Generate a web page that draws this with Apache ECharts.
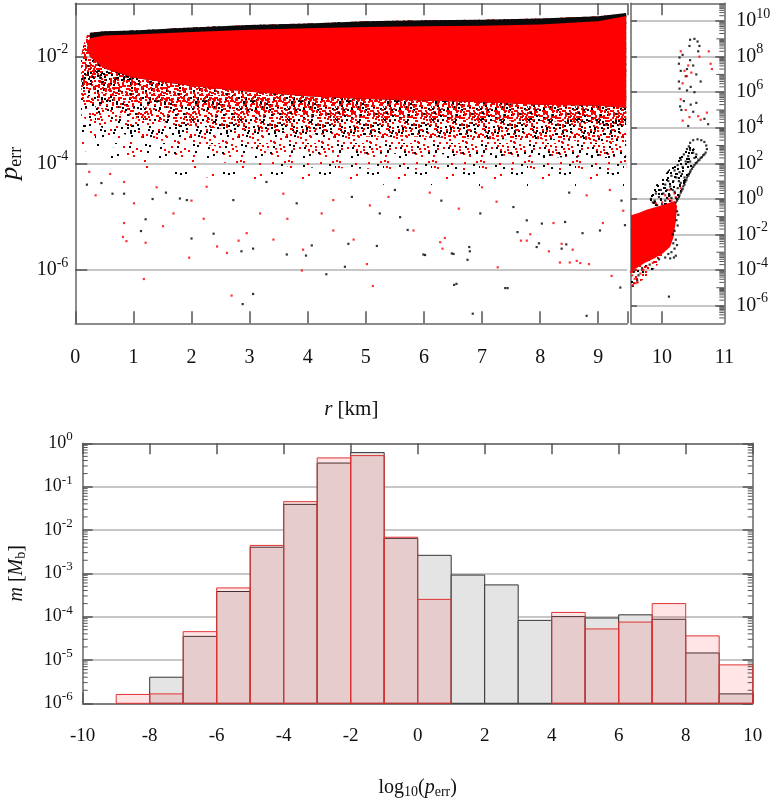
<!DOCTYPE html>
<html><head><meta charset="utf-8">
<script src="https://cdn.jsdelivr.net/npm/echarts@6/dist/echarts.min.js"></script>
<style>html,body{margin:0;padding:0;background:#fff}#c{width:780px;height:801px}</style>
</head><body><div id="c"></div>
<script>
// ---------------- DATA ----------------
// Top-left panel: envelopes of the dense cloud [r km, p_err]
const blackTop = [[0.25,2.8e-2],[0.5,3.0e-2],[1,3.1e-2],[2,3.5e-2],[3,3.9e-2],[4,4.2e-2],[5,4.6e-2],[6,4.8e-2],[7,4.9e-2],[8,5.2e-2],[9,5.7e-2],[9.48,6.6e-2]];
const redTop = [[0.25,2.2e-2],[0.5,2.5e-2],[1,2.6e-2],[2,2.9e-2],[3,3.2e-2],[4,3.4e-2],[5,3.6e-2],[6,3.7e-2],[7,3.8e-2],[8,4.0e-2],[9,4.6e-2],[9.48,5.8e-2]];
const redSolidBottom = [[0.25,1.0e-2],[0.5,6.0e-3],[1,4.0e-3],[2,2.8e-3],[3,2.2e-3],[4,1.8e-3],[5,1.6e-3],[6,1.5e-3],[7,1.4e-3],[8,1.25e-3],[9,1.2e-3],[9.48,1.1e-3]];
const redLeftEdge = [[0.2,1.5e-2]];
const speckleTop = [[0.1,1.0e-2],[0.15,1.8e-2],[0.2,2.5e-2],[0.3,2.9e-2],[1,3.1e-2],[2,3.5e-2],[3,3.9e-2],[4,4.2e-2],[5,4.6e-2],[6,4.8e-2],[7,4.9e-2],[8,5.2e-2],[9,5.7e-2],[9.48,6.4e-2]];
// lower edges of the thinning point cloud, as log10(p_err) at these radii
const speckleR = [0.1,0.2,0.5,1,2,3,4,5,6,7,8,9,9.48];
const band1Bottom = [-2.5,-2.6,-2.7,-2.8,-2.95,-3.05,-3.1,-3.15,-3.15,-3.2,-3.2,-3.25,-3.3];
const band2Bottom = [-2.8,-2.9,-3.0,-3.15,-3.3,-3.4,-3.45,-3.5,-3.5,-3.55,-3.55,-3.6,-3.6];
const band3Bottom = [-3.1,-3.2,-3.35,-3.5,-3.65,-3.72,-3.78,-3.82,-3.82,-3.85,-3.88,-3.9,-3.9];
const band4Bottom = [-3.4,-3.5,-3.65,-3.8,-3.95,-4.02,-4.08,-4.1,-4.12,-4.15,-4.15,-4.18,-4.2];
const band5Bottom = [-3.7,-3.8,-3.95,-4.1,-4.25,-4.3,-4.35,-4.4,-4.4,-4.45,-4.45,-4.5,-4.5];
// Top-left isolated points [r, log10 p_err]
const leftRedPts = [[0.24,-4.16],[0.60,-4.20],[0.84,-4.35],[1.01,-4.75],[0.84,-5.12],[0.82,-5.38],[0.88,-5.46],[1.21,-5.49],[1.51,-5.18],[1.18,-6.17],[1.96,-5.77],[1.69,-4.94],[2.21,-5.04],[2.44,-5.56],[2.61,-5.68],[2.69,-6.48],[2.95,-5.31],[2.81,-5.45],[3.41,-5.43],[3.65,-5.04],[3.92,-5.62],[3.90,-6.01],[5.02,-5.89],[5.12,-6.30],[4.79,-5.43],[4.44,-5.26],[4.24,-4.94],[3.58,-4.57],[4.44,-4.69],[5.07,-4.79],[2.26,-4.44],[3.18,-4.94],[7.27,-5.95],[9.23,-6.11],[6.32,-5.60],[7.67,-5.45],[8.15,-5.65],[8.34,-5.86],[8.56,-5.62],[8.69,-5.87],[8.84,-5.89],[7.83,-5.33],[6.28,-5.48],[6.36,-5.40],[8.51,-5.86],[5.82,-5.26],[7.77,-5.45],[8.37,-5.51],[8.63,-5.83],[9.08,-5.12],[9.43,-4.89],[8.23,-5.12],[7.25,-4.72],[5.39,-4.63],[6.1,-4.55],[6.6,-4.85],[7.0,-4.45],[8.8,-4.6],[9.2,-4.5],[1.4,-4.45],[0.35,-4.6],[2.0,-4.7]];
const leftBlackPts = [[0.64,-4.57],[0.84,-4.57],[0.45,-4.37],[1.13,-5.27],[1.21,-5.05],[1.33,-4.67],[1.56,-4.55],[2.0,-5.41],[1.80,-4.66],[2.38,-5.32],[2.86,-5.65],[3.06,-6.45],[3.06,-5.60],[2.88,-6.64],[3.64,-5.71],[3.97,-5.73],[4.07,-5.54],[4.32,-6.08],[4.64,-5.94],[4.70,-5.51],[5.19,-5.55],[3.29,-4.35],[3.81,-4.75],[4.76,-4.63],[5.24,-4.94],[2.72,-4.69],[1.92,-4.69],[6.56,-6.26],[7.44,-6.34],[6.84,-6.82],[8.80,-6.86],[9.38,-6.33],[6.02,-5.72],[6.51,-5.70],[6.79,-5.65],[6.75,-5.81],[7.98,-5.50],[8.45,-5.52],[8.73,-5.31],[5.99,-5.71],[6.48,-5.69],[7.40,-6.34],[6.52,-6.28],[6.78,-5.57],[5.72,-5.25],[7.61,-5.29],[7.94,-5.57],[8.37,-5.60],[9.03,-5.26],[9.46,-5.16],[8.43,-5.10],[8.03,-5.13],[6.97,-4.94],[7.54,-4.82],[7.77,-5.07],[5.59,-5.01],[5.5,-4.5],[6.3,-4.7],[8.5,-4.55],[9.4,-4.7],[0.2,-4.4]];
// Top-right panel
const rightRedBlob = [[9.5,1.2e-1],[9.62,1.6e-1],[9.75,2.4e-1],[9.9,3.5e-1],[10.05,5e-1],[10.2,7.6e-1],[10.24,4e-1],[10.22,5e-2],[10.18,6.3e-3],[10.13,2e-3],[10.02,9e-4],[9.88,4.5e-4],[9.72,2.5e-4],[9.58,1.2e-4],[9.5,8e-5]];
const rightRedSpeckle = [[9.5,1.0e-4],[9.6,1.6e-4],[9.75,3.2e-4],[9.9,5.6e-4],[10.05,1e-3],[9.95,2.5e-4],[9.8,6e-5],[9.65,2.2e-5],[9.52,1.3e-5],[9.5,1.3e-5]];
const rightBlackBand = [[9.78,1.5e0],[9.9,6e0],[10.05,2.5e1],[10.2,1e2],[10.35,5e2],[10.45,1.2e3],[10.6,3e2],[10.5,6e1],[10.4,1.2e1],[10.3,2.5e0],[10.22,6e-1],[10.1,4e-1],[9.95,3.5e-1],[9.82,4e-1]];
const rightBlackPts = [[10.22,-0.2],[10.25,0.0],[10.28,0.2],[10.31,0.45],[10.34,0.7],[10.37,0.95],[10.40,1.2],[10.43,1.4],[10.46,1.6],[10.5,1.8],[10.54,2.0],[10.58,2.15],[10.62,2.3],[10.66,2.45],[10.70,2.6],[10.72,2.8],[10.71,3.0],[10.68,3.2],[10.63,3.3],[10.57,3.35],[10.5,3.3],[10.45,3.15],[10.43,2.95],[10.45,2.75],[10.5,2.6],[10.55,2.5],[10.24,-0.1],[10.27,0.1],[10.3,0.35],[10.33,0.55],[10.36,0.8],[10.39,1.05],[10.42,1.3],[10.45,1.5],[10.48,1.7],[10.52,1.9],[10.56,2.05],[10.6,2.2],[10.64,2.35],[10.68,2.5],[9.82,0.0],[9.85,-0.2],[9.9,0.3],[9.95,0.1],[9.98,0.5],[10.02,0.3],[10.05,0.8],[10.08,0.5],[10.1,1.0],[10.13,0.7],[10.15,1.3],[10.18,1.0],[10.2,1.6],[10.23,1.2],[10.25,1.9],[10.28,1.5],[10.3,2.2],[10.33,1.8],[10.35,2.5],[10.38,2.1],[10.4,2.8],[10.42,2.4],[10.36,1.2],[10.3,0.9],[10.25,0.6],[10.2,0.4],[10.12,0.2],[10.05,-0.1],[10.0,-0.3],[9.92,-0.35],[9.88,-0.1],[10.15,0.05],[10.32,1.4],[10.45,2.1],[10.52,2.3],[10.27,1.0],[10.17,0.5],[10.18,-2.5],[10.2,-2.8],[10.15,-3.0],[10.22,-3.2],[10.1,-3.1],[10.2,-1.8],[10.23,-1.2],[10.24,-0.7],[10.17,-2.0],[10.25,-1.5],[10.22,-2.3],[10.19,-3.3],[10.13,-3.35],[10.26,-0.9],[10.24,-2.6],[10.05,-3.3],[9.95,-3.4],[9.8,-3.7],[9.62,-4.3],[9.55,-4.1],[9.68,-3.9],[9.6,-4.6],[9.53,-4.9],[10.11,-5.5],[10.45,8.95],[10.52,9.0],[10.57,8.85],[10.6,8.6],[10.58,8.3],[10.44,8.6],[10.28,7.95],[10.27,7.6],[10.3,7.2],[10.45,7.8],[10.5,7.5],[10.55,7.0],[10.38,6.9],[10.27,6.6],[10.28,6.2],[10.4,6.1],[10.46,6.3],[10.52,6.0],[10.35,5.5],[10.29,5.2],[10.31,5.0],[10.46,5.3],[10.5,4.9],[10.55,5.4],[10.42,4.1],[10.74,4.2],[10.62,6.6],[10.4,7.3],[10.33,8.1],[10.68,4.5]];
const rightRedPts = [[10.0,-0.2],[10.1,0.0],[10.2,0.3],[10.15,-0.1],[9.9,-0.25],[10.3,0.6],[10.05,0.2],[10.12,0.5],[10.22,0.1],[9.52,-4.3],[9.56,-4.5],[9.6,-4.7],[9.53,-4.85],[9.65,-4.2],[9.7,-4.0],[9.58,-4.0],[9.75,-3.8],[9.85,-3.6],[9.5,-4.1],[9.57,-4.75],[10.3,8.3],[10.36,7.2],[10.42,7.5],[10.47,7.1],[10.4,6.9],[10.75,8.3],[10.78,7.6],[10.8,7.3],[10.3,5.6],[10.38,5.0],[10.44,4.6],[10.58,4.65],[10.62,4.45],[10.72,4.85],[10.33,4.4],[10.6,8.0],[10.33,6.5]];
// Tick values
const pLeftLabels = [1e-6,1e-4,1e-2];
const pRightLabels = [1e-6,1e-4,1e-2,1,1e2,1e4,1e6,1e8,1e10];
const pRightOddTicks = [1e-5,1e-3,1e-1,1e1,1e3,1e5,1e7,1e9];
const pRightDecades = [-7,-6,-5,-4,-3,-2,-1,0,1,2,3,4,5,6,7,8,9,10];
const rRightLabels = [10,11];
const rRightTicks = [10];
const mLabels = [1e-6,1e-5,1e-4,1e-3,1e-2,1e-1,1];
const mDecades = [-6,-5,-4,-3,-2,-1];
const minorMult = [2,3,4,5,6,7,8,9];
// Histogram: bin left edges (width 1), mass per bin
const binLeft = [-9,-8,-7,-6,-5,-4,-3,-2,-1,0,1,2,3,4,5,6,7,8,9];
const histBlack = [null,4.0e-6,3.5e-5,3.8e-4,4.0e-3,3.9e-2,0.35,0.61,6.4e-3,2.6e-3,9.1e-4,5.4e-4,8.2e-5,1.0e-4,9.3e-5,1.1e-4,8.7e-5,1.45e-5,1.65e-6];
const histRed = [1.6e-6,1.65e-6,4.5e-5,4.6e-4,4.4e-3,4.5e-2,0.46,0.52,6.8e-3,2.5e-4,null,null,null,1.25e-4,5.2e-5,7.5e-5,2.0e-4,3.6e-5,7.7e-6];
const histBase = 1e-6;

// ---------------- STYLE: speckle texture (hand-placed dots in a 48px tile) ----------------
const tileDots = [[3,5],[11,2],[19,8],[27,3],[36,6],[44,1],[7,13],[15,17],[23,12],[31,15],[40,11],[46,18],[2,22],[10,26],[18,21],[26,27],[34,23],[42,28],[6,33],[14,30],[22,36],[30,32],[38,35],[45,39],[1,42],[9,45],[17,40],[25,44],[33,41],[41,46],[5,9],[13,7],[21,4],[29,10],[37,1],[45,8],[8,19],[16,14],[24,20],[32,18],[39,24],[47,13],[4,29],[12,35],[20,30],[28,37],[35,31],[43,33],[7,40],[15,46],[23,42],[31,47],[39,43],[46,44],[2,16],[20,25],[29,24],[37,16],[11,38],[27,19],[34,45],[42,5],[17,33],[44,25]];
const tileMaps = [(x,y)=>[x,y],(x,y)=>[y,47-x],(x,y)=>[47-x,y+7],(x,y)=>[x+19,47-y],(x,y)=>[47-y,x+29],(x,y)=>[y+11,x],(x,y)=>[47-x+23,47-y+5],(x,y)=>[47-y+3,47-x+17]];
const FONT = '"Liberation Serif","DejaVu Serif",serif';
const TXT = '#111';
// layers: [mapIndex, keep every k-th dot]
function speckle(layers, blackEvery) {
  const S = 48, c = document.createElement('canvas'); c.width = S; c.height = S;
  const g = c.getContext('2d'); let n = 0;
  layers.forEach(L => tileDots.forEach((d, i) => {
    if (i % L[1] !== 0) return;
    const q = tileMaps[L[0]](d[0], d[1]);
    g.fillStyle = (n++ % blackEvery === 0) ? '#000000' : '#ff0000';
    g.fillRect(((q[0] % S) + S) % S, ((q[1] % S) + S) % S, 2, 2);
  }));
  return { image: c, repeat: 'repeat' };
}
const pat1 = speckle([[0,1],[1,1],[7,1]], 6);
const pat2 = speckle([[2,1],[3,1]], 4);
const pat3 = speckle([[4,1]], 3);
const pat4 = speckle([[5,2]], 2);
const pat5 = speckle([[6,4]], 2);
const patBand = speckle([[0,1],[3,1]], 1);

const toP = arr => arr.map(q => [q[0], Math.pow(10, q[1])]);
const edge = logs => speckleR.map((r, i) => [r, Math.pow(10, logs[i])]);
function polyOf(upper, lower, extra) { return upper.concat(lower.slice().reverse(), extra || []); }
function polySeries(poly, fill, xi, yi, z) {
  return { type: 'custom', xAxisIndex: xi, yAxisIndex: yi, z: z, silent: true, clip: false,
    data: [[poly[0][0], poly[0][1]]],
    renderItem: (p, api) => ({ type: 'polygon', shape: { points: poly.map(q => api.coord(q)) }, style: { fill: fill } }) };
}
function minorTicks(xi, yi, xL, xR, decades, ymax, sides, len, majors, majLen) {
  return { type: 'custom', xAxisIndex: xi, yAxisIndex: yi, z: 7, silent: true, clip: false,
    data: [[xL, Math.pow(10, decades[0])]],
    renderItem: (p, api) => {
      const ch = [];
      const add = (v, L) => {
        const a = api.coord([xL, v]), b = api.coord([xR, v]);
        if (sides.includes('L')) ch.push({ type: 'line', shape: { x1: a[0], y1: a[1], x2: a[0] + L, y2: a[1] }, style: { stroke: '#555', lineWidth: 1 } });
        if (sides.includes('R')) ch.push({ type: 'line', shape: { x1: b[0] - L, y1: b[1], x2: b[0], y2: b[1] }, style: { stroke: '#555', lineWidth: 1 } });
      };
      decades.forEach(d => minorMult.forEach(k => { const v = k * Math.pow(10, d); if (v < ymax) add(v, len); }));
      (majors || []).forEach(v => add(v, majLen));
      return { type: 'group', children: ch };
    } };
}
function histSeries(vals, fill, stroke, z) {
  const data = [];
  binLeft.forEach((x, i) => { if (vals[i] != null) data.push([x, vals[i]]); });
  return { type: 'custom', xAxisIndex: 4, yAxisIndex: 3, z: z, silent: true, data: data,
    renderItem: (p, api) => {
      const x0 = api.value(0), v = api.value(1);
      const a = api.coord([x0, v]), b = api.coord([x0 + 1, histBase]);
      return { type: 'rect', shape: { x: a[0], y: a[1], width: b[0] - a[0], height: b[1] - a[1] },
        style: { fill: fill, stroke: stroke, lineWidth: 1 } };
    } };
}
const expLabel = v => '{b|10}{s|' + Math.round(Math.log10(v)) + '}';
const richLab = (fs, ss) => ({ b: { fontFamily: FONT, fontSize: fs, color: TXT, lineHeight: fs + 8, verticalAlign: 'middle' },
  s: { fontFamily: FONT, fontSize: ss, color: TXT, lineHeight: ss, verticalAlign: 'top' } });
const titleRich = fs => ({ it: { fontFamily: FONT, fontSize: fs, fontStyle: 'italic', color: TXT, lineHeight: fs + 4, verticalAlign: 'middle' },
  sub: { fontFamily: FONT, fontSize: Math.round(fs * 0.68), color: TXT, lineHeight: Math.round(fs * 0.68), verticalAlign: 'bottom' },
  n: { fontFamily: FONT, fontSize: fs, color: TXT, lineHeight: fs + 4, verticalAlign: 'middle' } });
const axLine = { show: true, onZero: false, lineStyle: { color: '#666', width: 1.5 } };
const tick = (len, cv) => Object.assign({ show: true, inside: true, length: len, lineStyle: { color: '#555', width: 1.5 } }, cv ? { customValues: cv } : {});
const gridLine = { show: true, lineStyle: { color: '#b4b4b4', width: 1.5 } };
const noSplit = { show: false };
const lab = (fs, extra) => Object.assign({ fontFamily: FONT, fontSize: fs, color: TXT }, extra);

const chart = echarts.init(document.getElementById('c'));
chart.setOption({
  animation: false,
  backgroundColor: '#fff',
  grid: [
    { left: 75.3, top: 3.3, width: 552, height: 320, outerBoundsMode: 'none', containLabel: false },
    { left: 631, top: 3.3, width: 93.3, height: 320, outerBoundsMode: 'none', containLabel: false },
    { left: 82.7, top: 443.3, width: 670, height: 260, outerBoundsMode: 'none', containLabel: false }
  ],
  xAxis: [
    { gridIndex: 0, type: 'value', min: 0, max: 9.5, interval: 1, position: 'bottom', axisLine: axLine, axisTick: tick(12), splitLine: noSplit,
      axisLabel: lab(20, { margin: 24, formatter: v => Number.isInteger(v) ? String(v) : '' }),
      name: '{it|r}{n| [km]}', nameLocation: 'middle', nameGap: 74, nameMoveOverlap: false,
      nameTextStyle: { fontFamily: FONT, fontSize: 20, color: TXT, rich: titleRich(21) } },
    { gridIndex: 0, type: 'value', min: 0, max: 9.5, interval: 1, position: 'top', axisLine: axLine, axisTick: tick(12), splitLine: noSplit, axisLabel: { show: false } },
    { gridIndex: 1, type: 'value', min: 9.5, max: 11, position: 'bottom', axisLine: axLine, axisTick: tick(12, rRightTicks), splitLine: noSplit,
      axisLabel: lab(20, { margin: 24, customValues: rRightLabels, showMaxLabel: true }) },
    { gridIndex: 1, type: 'value', min: 9.5, max: 11, position: 'top', axisLine: axLine, axisTick: tick(12, rRightTicks), splitLine: noSplit, axisLabel: { show: false } },
    { gridIndex: 2, type: 'value', min: -10, max: 10, interval: 2, position: 'bottom', axisLine: axLine, axisTick: tick(11), splitLine: noSplit,
      axisLabel: lab(19, { margin: 23 }),
      name: '{n|log}{sub|10}{n|(}{it|p}{sub|err}{n|)}', nameLocation: 'middle', nameGap: 72, nameMoveOverlap: false,
      nameTextStyle: { fontFamily: FONT, fontSize: 20, color: TXT, rich: titleRich(20) } },
    { gridIndex: 2, type: 'value', min: -10, max: 10, interval: 2, position: 'top', axisLine: axLine, axisTick: tick(11), splitLine: noSplit, axisLabel: { show: false } }
  ],
  yAxis: [
    { gridIndex: 0, type: 'log', logBase: 10, min: 1e-7, max: 1e-1, position: 'left', axisLine: axLine, axisTick: tick(12, pLeftLabels), splitLine: gridLine,
      axisLabel: lab(20, { margin: 7, customValues: pLeftLabels, formatter: expLabel, rich: richLab(20, 14) }),
      name: '{it|p}{sub|err}', nameLocation: 'middle', nameRotate: 90, nameGap: 50, nameMoveOverlap: false,
      nameTextStyle: { fontFamily: FONT, fontSize: 25, color: TXT, rich: titleRich(26) } },
    { gridIndex: 1, type: 'log', logBase: 10, min: 1e-7, max: 1e11, position: 'right', axisLine: axLine, axisTick: tick(9, pRightLabels), splitLine: gridLine,
      axisLabel: lab(20, { margin: 12, customValues: pRightLabels, formatter: expLabel, rich: richLab(20, 14) }) },
    { gridIndex: 1, type: 'log', logBase: 10, min: 1e-7, max: 1e11, position: 'left', axisLine: axLine, axisTick: tick(6, pRightLabels), splitLine: noSplit, axisLabel: { show: false } },
    { gridIndex: 2, type: 'log', logBase: 10, min: 1e-6, max: 1, position: 'left', axisLine: axLine, axisTick: tick(10, mLabels), splitLine: gridLine,
      axisLabel: lab(18, { margin: 10, customValues: mLabels, formatter: expLabel, rich: richLab(18, 13) }),
      name: '{it|m}{n| [}{it|M}{sub|b}{n|]}', nameLocation: 'middle', nameRotate: 90, nameGap: 54, nameMoveOverlap: false,
      nameTextStyle: { fontFamily: FONT, fontSize: 20, color: TXT, rich: titleRich(20) } },
    { gridIndex: 2, type: 'log', logBase: 10, min: 1e-6, max: 1, position: 'right', axisLine: axLine, axisTick: tick(10, mLabels), splitLine: noSplit, axisLabel: { show: false } }
  ],
  series: [
    polySeries(polyOf(speckleTop, edge(band5Bottom)), pat5, 0, 0, 1),
    polySeries(polyOf(speckleTop, edge(band4Bottom)), pat4, 0, 0, 1),
    polySeries(polyOf(speckleTop, edge(band3Bottom)), pat3, 0, 0, 2),
    polySeries(polyOf(speckleTop, edge(band2Bottom)), pat2, 0, 0, 2),
    polySeries(polyOf(speckleTop, edge(band1Bottom)), pat1, 0, 0, 3),
    polySeries(polyOf(blackTop, redSolidBottom), '#0a0a0a', 0, 0, 4),
    polySeries(polyOf(redTop, redSolidBottom, redLeftEdge), '#ff0000', 0, 0, 5),
    { type: 'scatter', xAxisIndex: 0, yAxisIndex: 0, z: 6, symbol: 'rect', symbolSize: 2.2, silent: true, itemStyle: { color: '#000' }, data: toP(leftBlackPts) },
    { type: 'scatter', xAxisIndex: 0, yAxisIndex: 0, z: 6, symbol: 'rect', symbolSize: 2.2, silent: true, itemStyle: { color: '#ff0000' }, data: toP(leftRedPts) },
    polySeries(rightRedSpeckle, pat2, 2, 1, 2),
    polySeries(rightBlackBand, patBand, 2, 1, 3),
    polySeries(rightRedBlob, '#ff0000', 2, 1, 5),
    { type: 'scatter', xAxisIndex: 2, yAxisIndex: 1, z: 6, symbol: 'rect', symbolSize: 2.2, silent: true, itemStyle: { color: '#000' }, data: toP(rightBlackPts) },
    { type: 'scatter', xAxisIndex: 2, yAxisIndex: 1, z: 6, symbol: 'rect', symbolSize: 2.2, silent: true, itemStyle: { color: '#ff0000' }, data: toP(rightRedPts) },
    minorTicks(2, 1, 9.5, 11, pRightDecades, 1e11, 'R', 5, pRightOddTicks, 8),
    histSeries(histBlack, '#e4e4e4', '#333', 3),
    histSeries(histRed, 'rgba(255,0,0,0.1)', '#e03333', 4),
    minorTicks(4, 3, -10, 10, mDecades, 1, 'LR', 5, [], 0)
  ]
});
</script></body></html>
